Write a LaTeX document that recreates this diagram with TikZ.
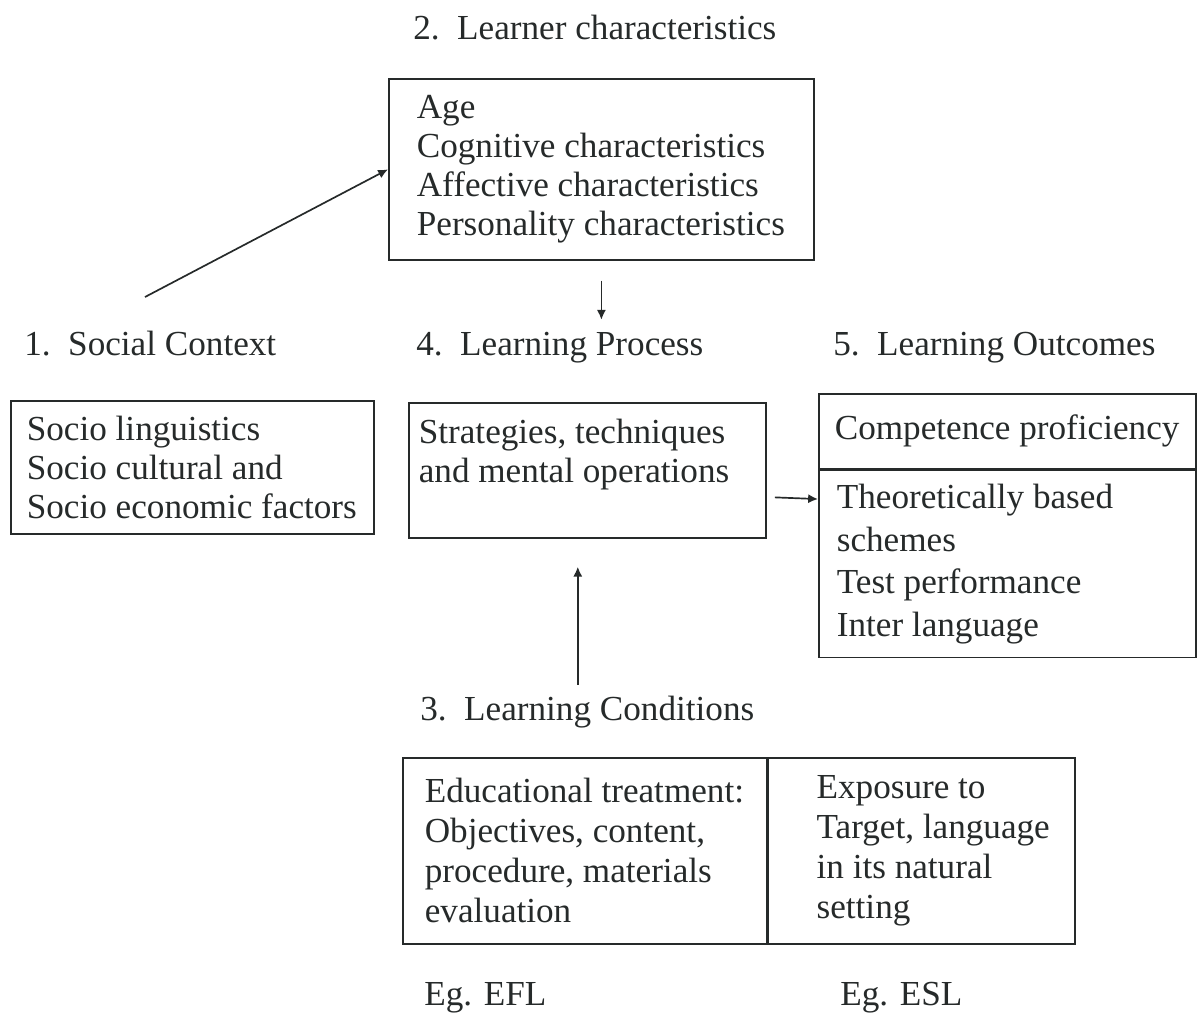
\documentclass[tikz,border=0pt]{standalone}
\usepackage{fontspec}
\setmainfont{Liberation Serif}
\usetikzlibrary{arrows.meta,positioning}
\definecolor{ink}{RGB}{38,42,42}

\begin{document}
\begin{tikzpicture}[
  x=0.025cm, y=-0.025cm,
  >={Latex[length=7pt,width=6.5pt]},
  font=\fontsize{25}{27.7}\selectfont,
  box/.style={draw=ink,line width=1.2pt,text=ink,anchor=north west,align=left,inner sep=0pt},
  pad/.style={execute at begin node={\leftskip=#1\spaceskip=0pt\xspaceskip=0pt\relax}},
  head/.style={anchor=base west,inner sep=0pt,text=ink},
  link/.style={draw=ink,line width=1.2pt}
]
\useasboundingbox (0,0) rectangle (1197,1014);

% headings
\node[head] (learn_hd) at (413,39) {2.\ \ Learner characteristics};
\node[head] (soc_hd) at (24,355) {1.\ \ Social Context};
\node[head] (proc_hd) at (416,355) {4.\ \ Learning Process};
\node[head] (out_hd) at (833,355) {5.\ \ Learning Outcomes};
\node[head] (cond_hd) at (420,720) {3.\ \ Learning Conditions};

% boxes
\node[box,pad=0.7cm,text width=10.625cm,minimum height=4.525cm] (learn) at (388,78)
  {Age\\Cognitive characteristics\\Affective characteristics\\Personality characteristics};
\node[box,pad=0.4cm,text width=9.075cm,minimum height=3.325cm] (soc) at (10,400)
  {Socio linguistics\\Socio cultural and\\Socio economic factors};
\node[box,pad=0.25cm,text width=8.925cm,minimum height=3.375cm] (proc) at (408,402)
  {Strategies, techniques\\and mental operations\\~};
\node[box,pad=0.4cm,text width=9.425cm,minimum height=1.875cm] (outa) at (818,393)
  {Competence proficiency};
\node[box,pad=0.45cm,text width=9.425cm,minimum height=4.675cm,below=0pt of outa,
  font=\fontsize{25}{30.5}\selectfont] (outb)
  {Theoretically based\\schemes\\Test performance\\Inter language};
\node[box,pad=0.55cm,text width=9.1cm,minimum height=4.65cm,
  font=\fontsize{25}{28.4}\selectfont] (conda) at (402,757)
  {Educational treatment:\\Objectives, content,\\procedure, materials\\evaluation};
\node[box,pad=1.2cm,text width=7.65cm,minimum height=4.65cm,right=0pt of conda,
  font=\fontsize{25}{28.4}\selectfont] (condb)
  {Exposure to\\Target, language\\in its natural\\setting};

\node[head] (efl) at (424,1005) {Eg. EFL};
\node[head] (esl) at (840,1005) {Eg. ESL};

% arrows
\coordinate (soc_tail) at (145,297);
\draw[link,->] (soc_tail) -- (learn.west);
\draw[link,->] ([yshift=-0.5cm]learn.south) -- ++(0,39);
\draw[link,<-] ([xshift=-0.24cm,yshift=-0.7cm]proc.south) -- ++(0,118);
\draw[link,->] ([xshift=0.2cm,yshift=-0.675cm]proc.east) -- ([yshift=1.625cm]outb.west);
\end{tikzpicture}
\end{document}
